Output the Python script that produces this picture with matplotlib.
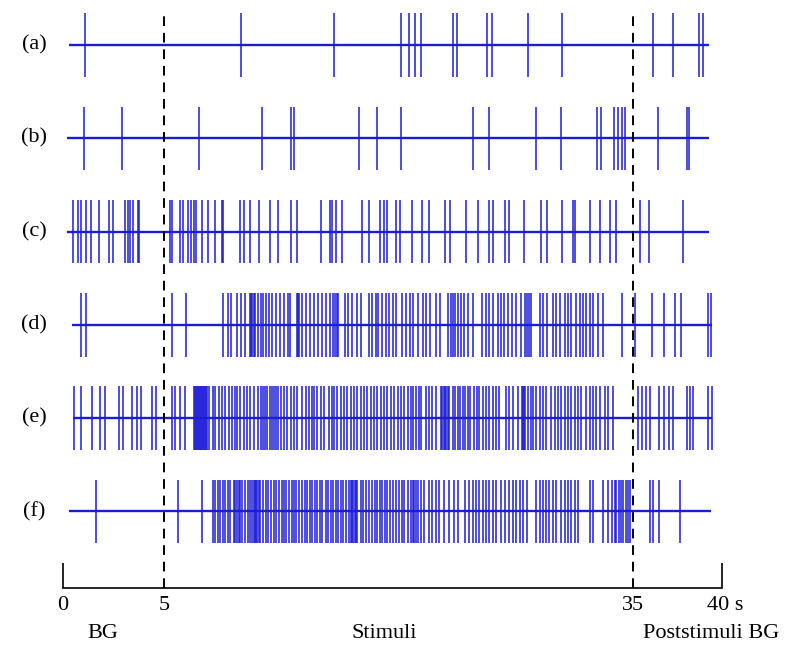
import numpy as np
import matplotlib
matplotlib.use("Agg")
import matplotlib.pyplot as plt

# ---------------- data (spike times in seconds) ----------------
row_labels = ["(a)", "(b)", "(c)", "(d)", "(e)", "(f)"]

spikes_a = [1.09, 9.90, 15.88, 20.15, 20.65, 21.07, 21.41, 23.50, 23.77, 25.67, 25.95,
            28.30, 30.47, 36.11, 37.23, 38.70, 38.91]

spikes_b = [1.05, 2.91, 7.25, 11.25, 13.11, 13.34, 17.50, 18.61, 20.15, 24.75, 25.82,
            28.80, 30.42, 32.71, 32.98, 33.77, 34.04, 34.29, 34.52, 36.41, 38.05, 38.16]

spikes_c = [0.49, 0.74, 0.87, 1.15, 1.40, 1.78, 2.30, 2.47, 3.09, 3.21, 3.34, 3.45, 3.70, 3.75,
            5.36, 5.51, 6.05, 6.22, 6.54, 6.71, 6.90, 7.05, 7.44, 7.82, 8.25, 8.72, 8.80,
            9.89, 10.11, 10.47, 11.07, 11.75, 12.31, 13.14, 13.53, 15.02, 15.60, 15.77,
            15.98, 16.37, 17.65, 18.12, 18.80, 19.08, 19.29, 19.83, 20.08, 20.85, 21.49,
            21.92, 22.99, 23.29, 24.31, 25.06, 25.81, 26.02, 26.84, 27.05, 28.05, 29.12,
            29.49, 30.47, 31.15, 31.30, 32.26, 32.86, 33.50, 33.93, 35.39, 35.89, 37.79]

spikes_d = [0.87, 1.12, 5.51, 6.39,
            8.76, 9.08, 9.29, 9.68, 9.94, 10.17, 10.47, 10.56, 10.64, 10.73, 10.81, 11.00,
            11.18, 11.32, 11.50, 11.71, 11.92, 12.18, 12.41, 12.67, 12.93, 13.06, 13.48,
            13.57, 13.63, 13.85, 14.06, 14.32, 14.59, 14.87, 15.09, 15.34, 15.60, 15.81,
            15.94, 16.07, 16.15, 16.58, 16.79, 17.01, 17.33, 17.59, 18.12, 18.33, 18.55,
            18.72, 18.97, 19.19, 19.40, 19.62, 19.87, 20.25, 20.51, 20.72, 20.90, 21.22,
            21.54, 21.79, 22.01, 22.39, 22.65, 23.14, 23.35, 23.50, 23.63, 23.78, 23.99,
            24.21, 24.42, 24.74, 25.34, 25.60, 25.81, 26.07, 26.34, 26.56, 26.77, 26.99,
            27.26, 27.52, 27.84, 28.12, 28.22, 28.33, 28.48, 29.02, 29.23, 29.49, 29.87,
            30.08, 30.34, 30.62, 30.83, 31.05, 31.37, 31.58, 31.79, 32.01, 32.22, 32.43,
            32.75, 33.08, 34.29, 35.12, 36.09, 36.73, 37.37, 37.68, 39.20, 39.36]

spikes_e = [0.54, 0.89, 1.46, 1.83, 2.06, 2.76, 2.99, 3.41, 3.65, 3.85, 4.41, 4.61,
            5.49, 5.72, 6.00, 6.33, 6.90, 6.96, 7.02, 7.09, 7.15, 7.22, 7.28, 7.34, 7.41,
            7.47, 7.53, 7.60, 7.66, 7.76, 7.91, 8.12, 8.29, 8.50, 8.72, 8.93, 9.15, 9.36,
            9.53, 9.68, 9.89, 10.11, 10.32, 10.53, 10.75, 11.03, 11.18, 11.32, 11.45,
            11.60, 11.75, 11.92, 12.05, 12.18, 12.29, 12.46, 12.67, 12.88, 13.10, 13.31,
            13.53, 13.85, 14.06, 14.27, 14.44, 14.59, 14.81, 15.02, 15.24, 15.56, 15.73,
            15.88, 16.09, 16.30, 16.52, 16.73, 16.94, 17.16, 17.37, 17.59, 17.80, 18.01,
            18.23, 18.44, 18.65, 18.87, 19.08, 19.29, 19.51, 19.72, 19.94, 20.15, 20.36,
            20.58, 20.79, 20.94, 21.11, 21.28, 21.43, 21.75, 21.92, 22.14, 22.39, 22.71,
            22.80, 22.88, 22.97, 23.05, 23.14, 23.25, 23.46, 23.63, 23.78, 23.93, 24.10,
            24.27, 24.42, 24.57, 24.85, 25.00, 25.17, 25.38, 25.60, 25.81, 26.02, 26.24,
            26.45, 26.88, 27.09, 27.31, 27.63, 27.90, 27.97, 28.03, 28.12, 28.27, 28.48,
            28.63, 28.80, 29.02, 29.23, 29.44, 29.76, 29.98, 30.19, 30.40, 30.62, 30.83,
            31.05, 31.26, 31.47, 31.69, 32.01, 32.22, 32.43, 32.65, 32.86, 33.18, 33.40,
            33.72, 35.26, 35.50, 35.71, 35.98, 36.46, 36.73, 37.05, 37.27, 38.02, 38.20,
            38.39, 39.22, 39.44]

spikes_f = [1.64, 5.90, 7.44, 8.12, 8.29, 8.46, 8.61, 8.76, 8.93, 9.10, 9.25, 9.47, 9.57,
            9.68, 9.79, 9.89, 10.00, 10.21, 10.38, 10.53, 10.64, 10.73, 10.81, 10.90,
            10.98, 11.07, 11.15, 11.32, 11.50, 11.67, 11.82, 12.03, 12.18, 12.35, 12.52,
            12.67, 12.82, 12.99, 13.16, 13.31, 13.46, 13.63, 13.85, 14.02, 14.17, 14.32,
            14.49, 14.66, 14.81, 14.96, 15.13, 15.34, 15.51, 15.66, 15.81, 15.98, 16.15,
            16.30, 16.45, 16.62, 16.84, 16.94, 17.03, 17.12, 17.20, 17.29, 17.37, 17.59,
            17.74, 17.91, 18.12, 18.33, 18.50, 18.65, 18.80, 18.97, 19.15, 19.29, 19.44,
            19.62, 19.83, 20.00, 20.21, 20.36, 20.58, 20.79, 20.94, 21.02, 21.11, 21.22,
            21.43, 21.64, 21.92, 22.14, 22.39, 22.61, 22.93, 23.25, 23.57, 23.78, 24.27,
            24.53, 24.74, 24.96, 25.13, 25.38, 25.60, 25.81, 26.07, 26.24, 26.56, 26.84,
            27.09, 27.31, 27.52, 27.78, 27.95, 28.20, 28.80, 29.02, 29.23, 29.44, 29.61,
            29.87, 30.08, 30.40, 30.62, 30.83, 31.05, 31.26, 31.47, 32.22, 32.43, 33.08,
            33.40, 33.67, 33.82, 33.93, 34.10, 34.25, 34.36, 34.53, 34.68, 34.79, 35.93,
            36.14, 36.46, 37.64]

all_spikes = [spikes_a, spikes_b, spikes_c, spikes_d, spikes_e, spikes_f]

baseline_start = [0.30, 0.20, 0.20, 0.45, 0.50, 0.30]
baseline_end = [39.25, 39.25, 39.25, 39.46, 39.46, 39.36]

tick_values = [0, 5, 35, 40]
tick_labels = ["0", "5", "35", "40 s"]
phase_labels = ["BG", "Stimuli", "Poststimuli BG"]
phase_marks = [5, 35]

# ---------------- figure ----------------
W, H = 789, 649
fig = plt.figure(figsize=(W / 100, H / 100), dpi=100)
serif = ["Liberation Serif", "DejaVu Serif"]

ax = fig.add_axes([63 / W, 1 - 588 / H, 659 / W, 578 / H])

# schematic (piecewise linear) time axis: the three phases have different widths
t_knots = np.array([0.0, 5.0, 35.0, 40.0])
u_knots = np.array([0.0, 101.0, 570.0, 659.0])


def fwd(t):
    t = np.asarray(t, dtype=float)
    return np.where(t < 0, t * 20.2,
                    np.where(t > 40, 659 + (t - 40) * 17.8,
                             np.interp(t, t_knots, u_knots)))


def inv(u):
    u = np.asarray(u, dtype=float)
    return np.where(u < 0, u / 20.2,
                    np.where(u > 659, 40 + (u - 659) / 17.8,
                             np.interp(u, u_knots, t_knots)))


ax.set_xscale("function", functions=(fwd, inv))
ax.set_xlim(0, 40)

n = len(all_spikes)
row_y = [n - 1 - i for i in range(n)]
half_h = 0.34
blue = "#1c1cd8"

for i, sp in enumerate(all_spikes):
    y = row_y[i]
    ax.hlines(y, baseline_start[i], baseline_end[i], color=blue, lw=1.7, zorder=2)
    ax.vlines(sp, y - half_h, y + half_h, color=blue, lw=1.1, zorder=3)

ax.set_ylim(-0.82, 5.375)

for xm in phase_marks:
    ax.axvline(xm, ymin=0, ymax=0.996, color="black", lw=1.4,
               linestyle=(0, (5, 3.5)), zorder=4)

for s in ["left", "top", "right"]:
    ax.spines[s].set_visible(False)
ax.spines["bottom"].set_linewidth(1.2)
ax.set_yticks([])

# end ticks (0 and 40) drawn as marks; phase boundaries labelled without marks
ax.set_xticks([tick_values[0], tick_values[3]])
ax.set_xticklabels([tick_labels[0], ""])
ax.set_xticks([tick_values[1], tick_values[2]], minor=True)
ax.set_xticklabels([tick_labels[1], tick_labels[2]], minor=True)
ax.tick_params(axis="x", which="major", direction="in", length=18, width=1.2,
               pad=6, labelsize=16, labelfontfamily=serif[0])
ax.tick_params(axis="x", which="minor", length=0, pad=6, labelsize=16,
               labelfontfamily=serif[0])
fig.text(707 / W, 1 - 596 / H, tick_labels[3], ha="left", va="top",
         fontsize=16, family=serif)

# row labels
for i, lab in enumerate(row_labels):
    ax.text(-29 / 659, row_y[i], lab, transform=ax.get_yaxis_transform(),
            ha="center", va="center", fontsize=16, family=serif)

# phase labels
phase_x = [103, 384, 711]
for lab, px in zip(phase_labels, phase_x):
    fig.text(px / W, 1 - 633 / H, lab, ha="center", va="center",
             fontsize=16, family=serif)

fig.savefig("out.png", dpi=100)
